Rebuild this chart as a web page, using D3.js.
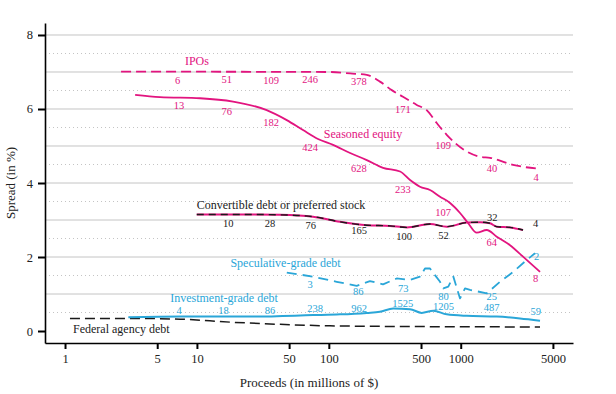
<!DOCTYPE html>
<html><head><meta charset="utf-8">
<script src="https://cdn.jsdelivr.net/npm/d3@7"></script>
<style>body{margin:0;background:#fff}svg{display:block}text{font-family:"Liberation Serif","DejaVu Serif",serif}</style>
</head><body><svg id="c" width="616" height="394"></svg>
<script>
// ---- data (proceeds in $M, spread in %) ----
const xTicks = [1, 5, 10, 50, 100, 500, 1000, 5000];
const yTicks = [0, 2, 4, 6, 8];

const ipoX = [2.66, 102, 145, 194, 244, 300, 365, 464, 552, 658, 783, 906, 1110, 1401, 1668, 2492, 3993];
const ipoY = [7.01, 7.0, 6.96, 6.92, 6.74, 6.51, 6.33, 6.11, 5.97, 5.62, 5.30, 5.08, 4.85, 4.71, 4.68, 4.49, 4.38];

const seoX = [3.40, 5.25, 10.56, 18.8, 33.8, 48.0, 63.7, 82.8, 107.6, 145, 194, 257.6, 347, 413, 491, 585, 697, 830, 988, 1136, 1322, 1575, 1875, 2365, 2967, 3993];
const seoY = [6.38, 6.32, 6.29, 6.20, 5.97, 5.70, 5.43, 5.19, 5.03, 4.81, 4.62, 4.41, 4.31, 4.08, 3.90, 3.81, 3.63, 3.46, 3.19, 2.92, 2.66, 2.73, 2.55, 2.32, 2.01, 1.60];

const cvX = [9.97, 23.9, 42.7, 75.9, 121.6, 194, 291, 389.5, 585, 783, 1110, 1401, 1668, 1875, 2365, 2967];
const cvY = [3.15, 3.15, 3.14, 3.09, 2.95, 2.86, 2.84, 2.80, 2.89, 2.82, 2.93, 2.94, 2.91, 2.82, 2.80, 2.73];

const spX = [48.0, 75.9, 114.8, 162.7, 205, 257.6, 327, 413, 491, 536, 585, 638, 697, 738, 805, 879, 988, 1078, 1177, 1575, 1986, 2506, 3165, 3658];
const spY = [1.58, 1.47, 1.33, 1.22, 1.35, 1.26, 1.42, 1.38, 1.47, 1.69, 1.69, 1.51, 1.33, 1.15, 1.20, 1.47, 0.88, 1.15, 1.11, 1.02, 1.33, 1.60, 1.92, 2.10];

const igX = [3.02, 7.45, 25.3, 75.9, 121.6, 194, 244, 308, 413, 506, 620, 783, 1110, 1875, 2816, 3993];
const igY = [0.37, 0.39, 0.39, 0.43, 0.45, 0.49, 0.52, 0.61, 0.59, 0.49, 0.55, 0.45, 0.41, 0.39, 0.34, 0.28];

const faX = [1.09, 3.11, 7.45, 17.8, 42.7, 102, 491, 3993];
const faY = [0.34, 0.34, 0.32, 0.24, 0.18, 0.14, 0.12, 0.11];

// count annotations: [proceeds, spread, text]
const ipoLabels = [[7.15,6.78,"6"],[16.8,6.81,"51"],[36.5,6.78,"109"],[72,6.81,"246"],[169,6.74,"378"],[365,6.0,"171"],[734,5.03,"109"],[1727,4.41,"40"],[3724,4.14,"4"]];
const seoLabels = [[7.32,6.09,"13"],[16.8,5.95,"76"],[36.5,5.63,"182"],[72,4.97,"424"],[169,4.41,"628"],[365,3.84,"233"],[734,3.22,"107"],[1718,2.39,"64"],[3700,1.43,"8"]];
const cvLabels = [[17.3,2.91,"10"],[35.8,2.91,"28"],[72.9,2.86,"76"],[169.9,2.73,"165"],[372,2.55,"100"],[739,2.59,"52"],[1735,3.07,"32"],[3700,2.91,"4"]];
const spLabels = [[72,1.27,"3"],[167.4,1.06,"86"],[367,1.15,"73"],[739,0.95,"80"],[1718,0.95,"25"],[3760,2.01,"2"]];
const igLabels = [[7.32,0.57,"4"],[15.9,0.57,"18"],[35.8,0.57,"86"],[78.6,0.61,"238"],[169.9,0.61,"962"],[363,0.76,"1525"],[739,0.68,"1205"],[1718,0.63,"487"],[3700,0.52,"59"]];
const seriesTitles = [["IPOs",10,7.30,"m","middle"],["Seasoned equity",181.7,5.32,"m","middle"],["Convertible debt or preferred stock",43.4,3.41,"k","middle"],["Speculative-grade debt",47.0,1.85,"c","middle"],["Investment-grade debt",16.05,0.91,"c","middle"],["Federal agency debt",1.15,0.05,"k","start"]];

// ---- chart ----
const MAG = "#e2147f", CYA = "#2aa6d8", BLK = "#1a1a1a";
const col = {m: MAG, c: CYA, k: BLK};
const svg = d3.select("#c");
const x = d3.scaleLog().domain([0.705, 7100]).range([45, 573]);
const y = d3.scaleLinear().domain([-0.324, 8.324]).range([343, 23]);

// grid
const solid = d3.range(1, 9);
const dotted = d3.range(0.5, 8, 1);
svg.append("g").selectAll("line").data(solid).join("line")
  .attr("x1", 45).attr("x2", 573).attr("y1", d => y(d)).attr("y2", d => y(d))
  .attr("stroke", "#c4c4c4").attr("stroke-width", 1);
svg.append("g").selectAll("line").data(dotted).join("line")
  .attr("x1", 45).attr("x2", 573).attr("y1", d => y(d)).attr("y2", d => y(d))
  .attr("stroke", "#c4c4c4").attr("stroke-width", 1).attr("stroke-dasharray", "1,3");

// axes
const xa = svg.append("g").attr("transform", "translate(0,343)")
  .call(d3.axisBottom(x).tickValues(xTicks).tickFormat(d3.format("d")).tickSize(6).tickPadding(5).tickSizeOuter(0));
const ya = svg.append("g").attr("transform", "translate(45,0)")
  .call(d3.axisLeft(y).tickValues(yTicks).tickSize(7).tickPadding(5).tickSizeOuter(0));
[xa, ya].forEach(g => {
  g.select(".domain").attr("stroke", "#000").attr("stroke-width", 1.6);
  g.selectAll(".tick line").attr("stroke", "#000").attr("stroke-width", 2);
  g.selectAll(".tick text").attr("font-family", "Liberation Serif, serif").attr("font-size", 12.5).attr("fill", "#222");
});

svg.append("text").attr("x", 309).attr("y", 387).attr("text-anchor", "middle")
  .attr("font-size", 13).attr("fill", "#222").text("Proceeds (in millions of $)");
svg.append("text").attr("transform", "translate(15,183) rotate(-90)").attr("text-anchor", "middle")
  .attr("font-size", 13).attr("fill", "#222").text("Spread (in %)");

// lines
const zip = (a, b) => a.map((v, i) => [v, b[i]]);
function draw(xs, ys, color, w, dash, curve) {
  const line = d3.line().x(d => x(d[0])).y(d => y(d[1])).curve(curve || d3.curveLinear);
  svg.append("path").datum(zip(xs, ys)).attr("d", line).attr("fill", "none")
    .attr("stroke", color).attr("stroke-width", w).attr("stroke-dasharray", dash || null)
    .attr("stroke-linejoin", "round");
}
const smooth = d3.curveMonotoneX;
draw(faX, faY, BLK, 1.5, "10,5", smooth);
draw(igX, igY, CYA, 2, null, smooth);
draw(spX, spY, CYA, 1.8, "10,6");
draw(cvX, cvY, MAG, 2, null, smooth);
draw(cvX, cvY, BLK, 1.4, "7,5", smooth);
draw(seoX, seoY, MAG, 1.8, null, smooth);
draw(ipoX, ipoY, MAG, 1.8, "10,5", smooth);

// labels
function labels(arr, color) {
  svg.append("g").selectAll("text").data(arr).join("text")
    .attr("x", d => x(d[0])).attr("y", d => y(d[1])).attr("dy", "0.35em")
    .attr("text-anchor", "middle").attr("font-size", 10.5).attr("fill", color).text(d => d[2]);
}
labels(ipoLabels, MAG); labels(seoLabels, MAG); labels(cvLabels, BLK);
labels(spLabels, CYA); labels(igLabels, CYA);

svg.append("g").selectAll("text").data(seriesTitles).join("text")
  .attr("x", d => x(d[1])).attr("y", d => y(d[2])).attr("dy", "0.35em")
  .attr("text-anchor", d => d[4]).attr("font-size", 12).attr("fill", d => col[d[3]]).text(d => d[0]);
</script></body></html>
